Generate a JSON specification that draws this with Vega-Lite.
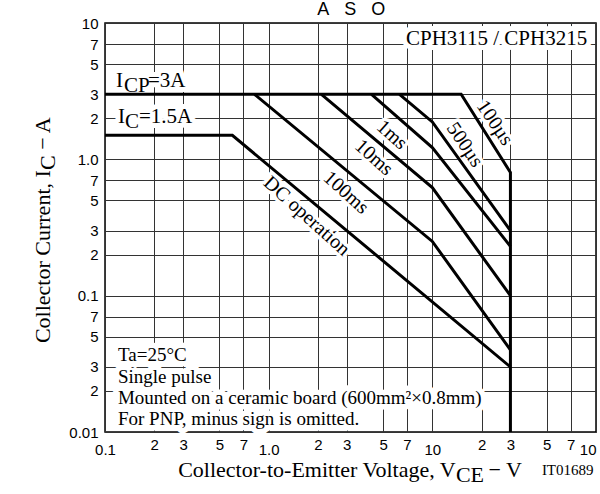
{
  "$schema": "https://vega.github.io/schema/vega-lite/v6.json",
  "width": 491,
  "height": 409,
  "autosize": {"type": "none"},
  "padding": {"left": 105, "top": 23, "right": 4, "bottom": 62},
  "background": "white",
  "config": {"view": {"stroke": "black", "strokeWidth": 1.5}},
  "datasets": {
    "curves": [
      {"s": "limit", "o": 1, "x": 0.1, "y": 3},
      {"s": "limit", "o": 2, "x": 15, "y": 3},
      {"s": "limit", "o": 3, "x": 30, "y": 0.8},
      {"s": "limit", "o": 4, "x": 30, "y": 0.01},
      {"s": "DC", "o": 1, "x": 0.1, "y": 1.5},
      {"s": "DC", "o": 2, "x": 0.6, "y": 1.5},
      {"s": "DC", "o": 3, "x": 30, "y": 0.03},
      {"s": "100ms", "o": 1, "x": 0.82, "y": 3},
      {"s": "100ms", "o": 2, "x": 10, "y": 0.25},
      {"s": "100ms", "o": 3, "x": 30, "y": 0.04},
      {"s": "10ms", "o": 1, "x": 2.1, "y": 3},
      {"s": "10ms", "o": 2, "x": 10, "y": 0.62},
      {"s": "10ms", "o": 3, "x": 30, "y": 0.1},
      {"s": "1ms", "o": 1, "x": 4.25, "y": 3},
      {"s": "1ms", "o": 2, "x": 10, "y": 1.22},
      {"s": "1ms", "o": 3, "x": 30, "y": 0.23},
      {"s": "500us", "o": 1, "x": 6.3, "y": 3},
      {"s": "500us", "o": 2, "x": 10, "y": 1.88},
      {"s": "500us", "o": 3, "x": 30, "y": 0.3}
    ],
    "ann21": [
      {"t": "I", "x": 0.1167, "y": 3.37},
      {"t": "CP", "x": 0.1306, "y": 3.13},
      {"t": "=3A", "x": 0.1831, "y": 3.37},
      {"t": "I", "x": 0.12, "y": 1.856},
      {"t": "C", "x": 0.1325, "y": 1.697},
      {"t": "=1.5A", "x": 0.1613, "y": 1.856},
      {"t": "CPH3115 / CPH3215", "x": 6.9, "y": 6.9}
    ],
    "notes": [
      {"t": "Ta=25°C", "x": 0.12, "y": 0.0331},
      {"t": "Single pulse", "x": 0.12, "y": 0.023},
      {"t": "Mounted on a ceramic board (600mm²×0.8mm)", "x": 0.12, "y": 0.016},
      {"t": "For PNP, minus sign is omitted.", "x": 0.12, "y": 0.01118}
    ],
    "rotA": [
      {"t": "100µs", "x": 24.1, "y": 1.85},
      {"t": "500µs", "x": 15.8, "y": 1.28}
    ],
    "rotB": [
      {"t": "1ms", "x": 5.67, "y": 1.51},
      {"t": "10ms", "x": 4.4, "y": 1.03},
      {"t": "100ms", "x": 2.97, "y": 0.57},
      {"t": "DC operation", "x": 1.71, "y": 0.384}
    ],
    "xtitle": [
      {"t": "Collector-to-Emitter Voltage, V", "x": 0.28, "y": 0.004667},
      {"t": "CE", "x": 13.94, "y": 0.00429},
      {"t": "− V", "x": 22, "y": 0.004667}
    ],
    "ytitle": [
      {"t": "Collector Current, I", "x": 0.0461, "y": 0.0449},
      {"t": "C", "x": 0.04948, "y": 0.8345},
      {"t": "− A", "x": 0.0461, "y": 1.174}
    ],
    "code": [
      {"t": "IT01689", "x": 46.7, "y": 0.00483}
    ],
    "heading": [
      {"t": "A\u00a0\u00a0\u00a0S\u00a0\u00a0\u00a0O", "x": 3.2, "y": 11.45}
    ]
  },
  "encoding": {
    "x": {"field": "x", "type": "quantitative",
      "scale": {"type": "log", "domain": [0.1, 100], "nice": false},
      "axis": {"values": [0.1, 0.2, 0.3, 0.5, 0.7, 1, 2, 3, 5, 7, 10, 20, 30, 50, 70, 100],
        "labelExpr": "datum.value == 0.1 ? ['', '0.1'] : datum.value == 1 ? ['', '1.0'] : datum.value == 10 ? ['', '10'] : datum.value == 100 ? ['', '10'] : format(datum.value / pow(10, floor(log(datum.value) / LN10 + 1e-9)), '.0f')",
        "labelAlign": {"condition": {"test": "datum.value == 100", "value": "right"}, "value": "center"},
        "title": null, "grid": true, "gridColor": "#333", "gridWidth": 1, "domain": false, "ticks": false,
        "labelFont": "Liberation Sans", "labelFontSize": 15, "labelColor": "black", "labelPadding": 5,
        "labelOverlap": false, "labelFlush": false, "labelBound": false, "labelLineHeight": 5}},
    "y": {"field": "y", "type": "quantitative",
      "scale": {"type": "log", "domain": [0.01, 10], "nice": false},
      "axis": {"values": [0.01, 0.02, 0.03, 0.05, 0.07, 0.1, 0.2, 0.3, 0.5, 0.7, 1, 2, 3, 5, 7, 10],
        "labelExpr": "datum.value == 10 ? '10\u00a0' : datum.value == 1 ? '1.0\u00a0' : datum.value == 0.1 ? '0.1\u00a0' : datum.value == 0.01 ? '0.01\u00a0' : format(datum.value / pow(10, floor(log(datum.value) / LN10 + 1e-9)), '.0f')",
        "title": null, "grid": true, "gridColor": "#333", "gridWidth": 1, "domain": false, "ticks": false,
        "labelFont": "Liberation Sans", "labelFontSize": 15, "labelColor": "black", "labelPadding": 7,
        "labelOverlap": false, "labelFlush": false, "labelBound": false}}
  },
  "layer": [
    {
      "data": {"name": "ann21"},
      "mark": {"type": "text", "font": "Liberation Serif", "fontSize": 21, "align": "left", "baseline": "alphabetic", "color": "white", "stroke": "white", "strokeWidth": 10, "strokeJoin": "round"},
      "encoding": {"text": {"field": "t"}}
    },
    {
      "data": {"name": "notes"},
      "mark": {"type": "text", "font": "Liberation Serif", "fontSize": 19, "align": "left", "baseline": "alphabetic", "color": "white", "stroke": "white", "strokeWidth": 11, "strokeJoin": "round"},
      "encoding": {"text": {"field": "t"}}
    },
    {
      "data": {"name": "rotA"},
      "mark": {"type": "text", "font": "Liberation Serif", "fontSize": 20, "align": "center", "baseline": "middle", "angle": 56, "color": "white", "stroke": "white", "strokeWidth": 7, "strokeJoin": "round"},
      "encoding": {"text": {"field": "t"}}
    },
    {
      "data": {"name": "rotB"},
      "mark": {"type": "text", "font": "Liberation Serif", "fontSize": 20, "align": "center", "baseline": "middle", "angle": 42, "color": "white", "stroke": "white", "strokeWidth": 7, "strokeJoin": "round"},
      "encoding": {"text": {"field": "t"}}
    },
    {
      "data": {"name": "curves"},
      "mark": {"type": "line", "color": "black", "strokeWidth": 3, "strokeJoin": "miter"},
      "encoding": {
        "detail": {"field": "s"},
        "order": {"field": "o", "type": "quantitative"}
      }
    },
    {
      "data": {"name": "ann21"},
      "mark": {"type": "text", "font": "Liberation Serif", "fontSize": 21, "align": "left", "baseline": "alphabetic", "color": "black"},
      "encoding": {"text": {"field": "t"}}
    },
    {
      "data": {"name": "notes"},
      "mark": {"type": "text", "font": "Liberation Serif", "fontSize": 19, "align": "left", "baseline": "alphabetic", "color": "black"},
      "encoding": {"text": {"field": "t"}}
    },
    {
      "data": {"name": "rotA"},
      "mark": {"type": "text", "font": "Liberation Serif", "fontSize": 20, "align": "center", "baseline": "middle", "angle": 56, "color": "black"},
      "encoding": {"text": {"field": "t"}}
    },
    {
      "data": {"name": "rotB"},
      "mark": {"type": "text", "font": "Liberation Serif", "fontSize": 20, "align": "center", "baseline": "middle", "angle": 42, "color": "black"},
      "encoding": {"text": {"field": "t"}}
    },
    {
      "data": {"name": "xtitle"},
      "mark": {"type": "text", "font": "Liberation Serif", "fontSize": 22, "align": "left", "baseline": "alphabetic", "color": "black"},
      "encoding": {"text": {"field": "t"}}
    },
    {
      "data": {"name": "ytitle"},
      "mark": {"type": "text", "font": "Liberation Serif", "fontSize": 22, "align": "left", "baseline": "alphabetic", "angle": 270, "color": "black"},
      "encoding": {"text": {"field": "t"}}
    },
    {
      "data": {"name": "code"},
      "mark": {"type": "text", "font": "Liberation Serif", "fontSize": 15, "align": "left", "baseline": "alphabetic", "color": "black"},
      "encoding": {"text": {"field": "t"}}
    },
    {
      "data": {"name": "heading"},
      "mark": {"type": "text", "font": "Liberation Sans", "fontSize": 18, "align": "center", "baseline": "alphabetic", "color": "black"},
      "encoding": {"text": {"field": "t"}}
    }
  ]
}
